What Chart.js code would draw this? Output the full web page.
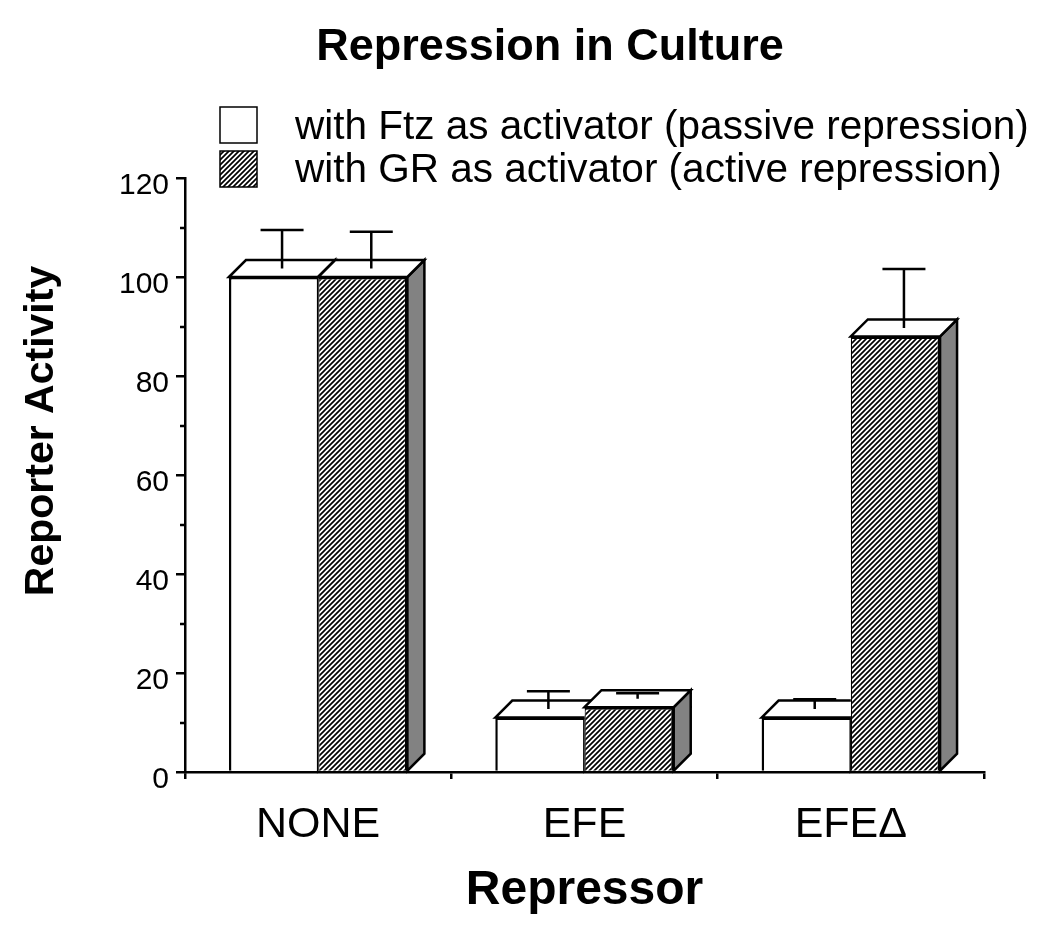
<!DOCTYPE html>
<html>
<head>
<meta charset="utf-8">
<title>Repression in Culture</title>
<script src="https://cdn.jsdelivr.net/npm/chart.js@4.4.1/dist/chart.umd.min.js"></script>
<style>
  html, body { margin: 0; padding: 0; background: #fff; }
  #wrap { width: 1050px; height: 929px; }
</style>
</head>
<body>
<div id="wrap"><canvas id="chart" width="1050" height="929"></canvas></div>
<script>
// --- DATA ---
const categories = ["NONE", "EFE", "EFE\u0394"];
const seriesLabels = [
  "with Ftz as activator (passive repression)",
  "with GR as activator (active repression)"
];
const ftzValues = [100, 11, 11];
const grValues = [100, 13.1, 88];
const ftzErrors = [7.8, 3.6, 2.0];
const grErrors = [7.4, 1.1, 11.9];
const yMin = 0, yMax = 120, yStep = 20;

// --- STYLE ---
const FONT = "'Liberation Sans', Arial, Helvetica, sans-serif";
const DEPTH = 17;      // 3D offset of the boxes
const CAP = 21.5;      // half width of the error bar cap
const LINE = 2.5;

function hatchPattern() {
  const c = document.createElement("canvas");
  c.width = c.height = 5;
  const g = c.getContext("2d");
  g.fillStyle = "#fff";
  g.fillRect(0, 0, 5, 5);
  g.strokeStyle = "#000";
  g.lineWidth = 1.7;
  g.beginPath();
  g.moveTo(-1, 6); g.lineTo(6, -1);
  g.moveTo(-1, 1); g.lineTo(1, -1);
  g.moveTo(4, 6); g.lineTo(6, 4);
  g.stroke();
  return g.createPattern(c, "repeat");
}
const hatch = hatchPattern();

function poly(ctx, pts, fill) {
  ctx.beginPath();
  ctx.moveTo(pts[0][0], pts[0][1]);
  for (let i = 1; i < pts.length; i++) ctx.lineTo(pts[i][0], pts[i][1]);
  ctx.closePath();
  ctx.fillStyle = fill;
  ctx.fill();
  ctx.stroke();
}

// top + side faces of the boxes, then error bars
const bars3d = {
  id: "bars3d",
  afterDatasetsDraw(chart) {
    const ctx = chart.ctx;
    const ys = chart.scales.y;
    const metas = chart.data.datasets.map((d, i) => chart.getDatasetMeta(i));
    ctx.save();
    ctx.lineWidth = LINE;
    ctx.strokeStyle = "#000";
    metas.forEach((meta, di) => {
      meta.data.forEach((bar, j) => {
        const { x, y, base, width } = bar.getProps(["x", "y", "base", "width"], true);
        const l = x - width / 2, r = x + width / 2;
        ctx.save();
        // the boxes to the right hide what lies behind their front face
        ctx.beginPath();
        ctx.rect(0, 0, chart.width, chart.height);
        metas.slice(di + 1).forEach(m => {
          const b = m.data[j];
          ctx.rect(b.x - b.width / 2, b.y, b.width, b.base - b.y);
        });
        ctx.clip("evenodd");
        poly(ctx, [[r, y], [r + DEPTH, y - DEPTH], [r + DEPTH, base - DEPTH], [r, base]], "#828282");
        poly(ctx, [[l, y], [l + DEPTH, y - DEPTH], [r + DEPTH, y - DEPTH], [r, y]], "#fff");
        ctx.restore();
      });
    });
    // error bars, sitting in the middle of the top face
    metas.forEach((meta, di) => {
      const ds = chart.data.datasets[di];
      meta.data.forEach((bar, j) => {
        const cx = bar.x + DEPTH / 2;
        const y0 = bar.y - DEPTH / 2;
        const y1 = ys.getPixelForValue(ds.data[j] + ds.errors[j]) - DEPTH / 2;
        ctx.beginPath();
        ctx.moveTo(cx, y0); ctx.lineTo(cx, y1);
        ctx.moveTo(cx - CAP, y1); ctx.lineTo(cx + CAP, y1);
        ctx.stroke();
      });
    });
    ctx.restore();
  }
};

// short unlabeled ticks between the major ones
const minorTicks = {
  id: "minorTicks",
  afterDraw(chart) {
    const ctx = chart.ctx;
    const ys = chart.scales.y;
    const ticks = ys.ticks;
    ctx.save();
    ctx.strokeStyle = "#000";
    ctx.lineWidth = LINE;
    ctx.beginPath();
    for (let i = 0; i < ticks.length - 1; i++) {
      const py = Math.round(ys.getPixelForValue((ticks[i].value + ticks[i + 1].value) / 2));
      ctx.moveTo(ys.right - 5, py);
      ctx.lineTo(ys.right, py);
    }
    ctx.stroke();
    ctx.restore();
  }
};

// title, legend and y axis title
const texts = {
  id: "texts",
  afterDraw(chart) {
    const ctx = chart.ctx;
    ctx.save();
    ctx.fillStyle = "#000";
    ctx.textBaseline = "middle";

    ctx.textAlign = "center";
    ctx.font = "bold 45px " + FONT;
    ctx.fillText("Repression in Culture", 550, 48);

    ctx.textAlign = "left";
    ctx.font = "40.5px " + FONT;
    chart.data.datasets.forEach((ds, i) => {
      const top = 107 + i * 44;
      ctx.fillStyle = ds.backgroundColor;
      ctx.fillRect(220, top, 37, 36);
      ctx.strokeStyle = "#000";
      ctx.lineWidth = 1.5;
      ctx.strokeRect(220, top, 37, 36);
      ctx.fillStyle = "#000";
      ctx.fillText(ds.label, 295, 128 + i * 43);
    });

    ctx.save();
    ctx.translate(42, 431);
    ctx.rotate(-Math.PI / 2);
    ctx.textAlign = "center";
    ctx.font = "bold 41px " + FONT;
    ctx.fillText("Reporter Activity", 0, 0);
    ctx.restore();

    ctx.restore();
  }
};

new Chart(document.getElementById("chart"), {
  type: "bar",
  data: {
    labels: categories,
    datasets: [
      {
        label: seriesLabels[0],
        data: ftzValues,
        errors: ftzErrors,
        backgroundColor: "#fff",
        borderColor: "#000",
        borderWidth: { top: LINE, left: LINE, right: 1.25, bottom: 0 }
      },
      {
        label: seriesLabels[1],
        data: grValues,
        errors: grErrors,
        backgroundColor: hatch,
        borderColor: "#000",
        borderWidth: { top: LINE, left: 1.25, right: LINE, bottom: 0 }
      }
    ]
  },
  options: {
    responsive: false,
    animation: false,
    devicePixelRatio: 1,
    categoryPercentage: 0.67,
    barPercentage: 1,
    layout: { padding: { top: 178, right: 66, bottom: 0, left: 0 } },
    plugins: {
      legend: { display: false },
      title: { display: false },
      tooltip: { enabled: false }
    },
    scales: {
      x: {
        grid: { offset: true, drawOnChartArea: false, color: "#000", lineWidth: LINE, tickLength: 7 },
        border: { color: "#000", width: LINE },
        ticks: { color: "#000", font: { family: FONT, size: 43 }, padding: 20 },
        title: {
          display: true,
          text: "Repressor",
          color: "#000",
          font: { family: FONT, size: 48, weight: "bold" },
          padding: { top: 0, bottom: 9 }
        },
        afterFit(s) { s.height = 157; }
      },
      y: {
        min: yMin,
        max: yMax,
        ticks: {
          stepSize: yStep,
          color: "#000",
          font: { family: FONT, size: 30 },
          padding: 7,
          labelOffset: 8
        },
        grid: { drawOnChartArea: false, color: "#000", lineWidth: LINE, tickLength: 9 },
        border: { color: "#000", width: LINE },
        afterFit(s) { s.width = 185; }
      }
    }
  },
  plugins: [bars3d, minorTicks, texts]
});
</script>
</body>
</html>
